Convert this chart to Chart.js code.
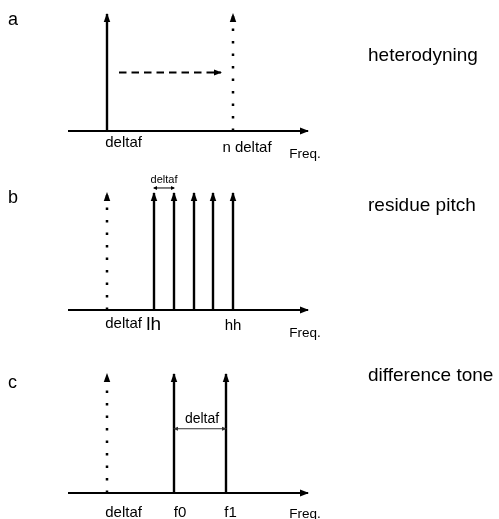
<!DOCTYPE html>
<html>
<head>
<meta charset="utf-8">
<script src="https://cdn.jsdelivr.net/npm/chart.js@4.4.1/dist/chart.umd.min.js"></script>
<style>
  body { margin: 0; background: #fff; }
  #wrap { position: relative; width: 499px; height: 519px; }
  #wrap canvas { position: absolute; left: 0; top: 0; }
</style>
</head>
<body>
<div id="wrap">
  <canvas id="pa" width="499" height="519"></canvas>
  <canvas id="pb" width="499" height="519"></canvas>
  <canvas id="pc" width="499" height="519"></canvas>
</div>
<script>
// frequency axis in arbitrary units 0..12, amplitude 0..1
const freqMax = 12;

// a - heterodyning
const aSolid = [1.95];
const aDotted = [8.25];
const aShift = [2.55, 7.65];      // dashed arrow, from / to
const aShiftLevel = 0.5;
const aTickText = ['deltaf', 'n deltaf'];
const aTickPos = [2.78, 8.95];

// b - residue pitch
const bDotted = [1.95];
const bHarmonics = [4.3, 5.3, 6.3, 7.25, 8.25];
const bTickText = ['deltaf', 'lh', 'hh'];
const bTickPos = [2.78, 4.28, 8.25];
const bGap = [4.3, 5.3];          // small deltaf arrow over first two harmonics

// c - difference tone
const cDotted = [1.95];
const cTones = [5.3, 7.9];
const cTickText = ['deltaf', 'f0', 'f1'];
const cTickPos = [2.78, 5.6, 8.13];

const panelLetters = ['a', 'b', 'c'];
const panelNames = ['heterodyning', 'residue pitch', 'difference tone'];
const axisTitle = 'Freq.';
const axisTitlePos = 11.85;

const FONT = '"Liberation Sans", Arial, sans-serif';

//linha de dois pontos
function seg(x0, y0, x1, y1, extra) {
    return Object.assign({
        data: [{x: x0, y: y0}, {x: x1, y: y1}],
        borderColor: '#000',
        borderWidth: 2,
        pointRadius: 0,
        fill: false,
        tension: 0,
        clip: false
    }, extra || {});
}

const solidStem = x => seg(x, 0, x, 1, {borderWidth: 2.4, arrow: {len: 9, w: 6.5}});
const dottedStem = x => seg(x, 0, x, 1, {borderWidth: 2.5, borderDash: [2.5, 10], arrow: {len: 9, w: 6.5}});
const freqAxis = () => seg(0, 0, freqMax, 0, {arrow: {len: 9, w: 7}});

const arrowPlugin = {
    id: 'arrows',
    afterDatasetsDraw(chart) {
        const ctx = chart.ctx;
        chart.data.datasets.forEach((ds, i) => {
            if (!ds.arrow) return;
            const pts = chart.getDatasetMeta(i).data;
            const head = (tip, from) => {
                const ang = Math.atan2(tip.y - from.y, tip.x - from.x);
                ctx.save();
                ctx.translate(tip.x, tip.y);
                ctx.rotate(ang);
                ctx.translate(1, 0);
                ctx.beginPath();
                ctx.moveTo(0, 0);
                ctx.lineTo(-ds.arrow.len, ds.arrow.w / 2);
                ctx.lineTo(-ds.arrow.len, -ds.arrow.w / 2);
                ctx.closePath();
                ctx.fillStyle = ds.borderColor;
                ctx.fill();
                ctx.restore();
            };
            head(pts[pts.length - 1], pts[pts.length - 2]);
            if (ds.arrow.both) head(pts[0], pts[1]);
        });
    }
};

function notesPlugin(notes) {
    return {
        id: 'notes',
        afterDraw(chart) {
            const ctx = chart.ctx;
            const xs = chart.scales.x, ys = chart.scales.y;
            const base = ys.getPixelForValue(0);
            ctx.save();
            ctx.fillStyle = '#000';
            ctx.textBaseline = 'alphabetic';
            notes.forEach(n => {
                ctx.font = n.size + 'px ' + FONT;
                ctx.textAlign = n.align || 'center';
                const x = n.px !== undefined ? n.px : xs.getPixelForValue(n.x);
                let y;
                if (n.py !== undefined) y = n.py;
                else if (n.dy !== undefined) y = base + n.dy;
                else y = ys.getPixelForValue(n.y);
                ctx.fillText(n.text, x, y);
            });
            ctx.restore();
        }
    };
}

function makePanel(id, pad, datasets, notes) {
    return new Chart(document.getElementById(id), {
        type: 'line',
        data: {datasets: datasets},
        options: {
            responsive: false,
            animation: false,
            events: [],
            layout: {padding: pad},
            plugins: {legend: {display: false}, tooltip: {enabled: false}},
            scales: {
                x: {type: 'linear', min: 0, max: freqMax, display: false},
                y: {type: 'linear', min: 0, max: 1, display: false}
            }
        },
        plugins: [arrowPlugin, notesPlugin(notes)]
    });
}

// a
makePanel('pa', {left: 68, right: 191, top: 14, bottom: 388}, [
    freqAxis(),
    ...aSolid.map(solidStem),
    ...aDotted.map(dottedStem),
    seg(aShift[0], aShiftLevel, aShift[1], aShiftLevel, {borderDash: [7.5, 5], arrow: {len: 8, w: 6}})
], [
    {text: aTickText[0], x: aTickPos[0], dy: 15.5, size: 15},
    {text: aTickText[1], x: aTickPos[1], dy: 20.5, size: 15},
    {text: axisTitle, x: axisTitlePos, dy: 26.5, size: 13.5},
    {text: panelLetters[0], px: 8, py: 25, size: 18, align: 'left'},
    {text: panelNames[0], px: 368, py: 61, size: 19, align: 'left'}
]);

// b
makePanel('pb', {left: 68, right: 191, top: 193, bottom: 209}, [
    freqAxis(),
    ...bDotted.map(dottedStem),
    ...bHarmonics.map(solidStem),
    seg(bGap[0], 1.043, bGap[1], 1.043, {borderWidth: 1, arrow: {len: 4, w: 4, both: true}})
], [
    {text: 'deltaf', x: (bGap[0] + bGap[1]) / 2, y: 1.085, size: 11},
    {text: bTickText[0], x: bTickPos[0], dy: 18.3, size: 15},
    {text: bTickText[1], x: bTickPos[1], dy: 20, size: 19},
    {text: bTickText[2], x: bTickPos[2], dy: 20, size: 15},
    {text: axisTitle, x: axisTitlePos, dy: 27, size: 13.5},
    {text: panelLetters[1], px: 8, py: 203, size: 18, align: 'left'},
    {text: panelNames[1], px: 368, py: 211, size: 19, align: 'left'}
]);

// c
makePanel('pc', {left: 68, right: 191, top: 374, bottom: 26}, [
    freqAxis(),
    ...cDotted.map(dottedStem),
    ...cTones.map(solidStem),
    seg(cTones[0], 0.54, cTones[1], 0.54, {borderWidth: 1, borderColor: '#333', arrow: {len: 5, w: 4, both: true}})
], [
    {text: 'deltaf', x: (cTones[0] + cTones[1]) / 2 + 0.1, y: 0.59, size: 14},
    {text: cTickText[0], x: cTickPos[0], dy: 23.5, size: 15},
    {text: cTickText[1], x: cTickPos[1], dy: 23.5, size: 15},
    {text: cTickText[2], x: cTickPos[2], dy: 23.5, size: 15},
    {text: axisTitle, x: axisTitlePos, dy: 24.5, size: 13.5},
    {text: panelLetters[2], px: 8, py: 388, size: 18, align: 'left'},
    {text: panelNames[2], px: 368, py: 381, size: 19, align: 'left'}
]);
</script>
</body>
</html>
